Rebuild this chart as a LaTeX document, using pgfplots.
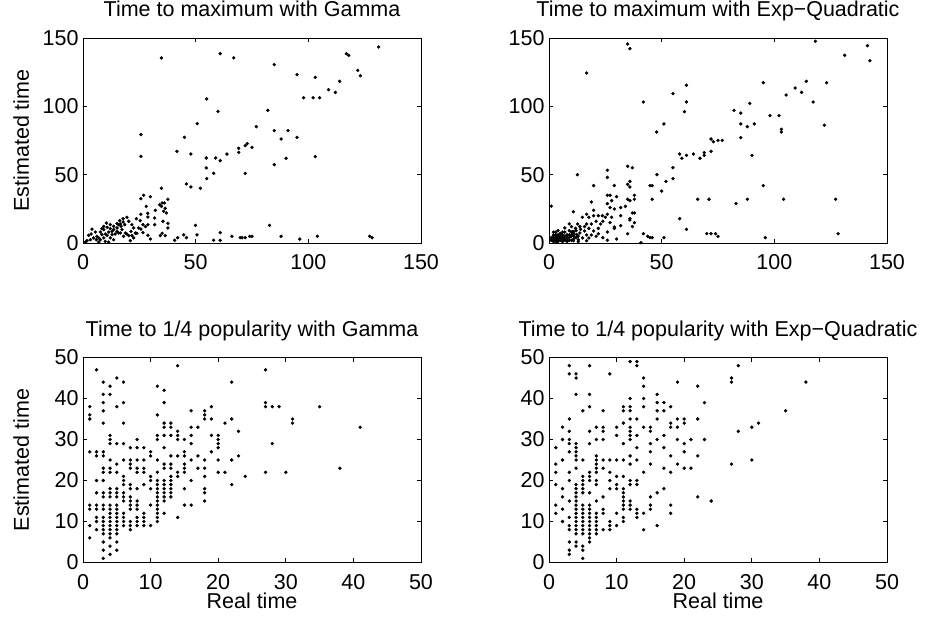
\documentclass[border=0pt]{standalone}
\usepackage{pgfplots}
\pgfplotsset{compat=1.18}
\usepackage{fontspec}
\setmainfont{Liberation Sans}
\newcommand{\fs}{\fontsize{21.5}{25}\selectfont}
\pgfplotsset{
  panel/.style={
    scale only axis, width=338pt, height=205pt,
    axis line style={line width=0.8pt, black},
    tick style={line width=0.8pt, black},
    tick align=inside, major tick length=4pt,
    /pgf/number format/assume math mode=true,
    tick label style={font=\fs},
    xticklabel style={anchor=base, yshift=-27pt},
    yticklabel style={anchor=east, xshift=-1pt},
    title style={font=\fs, at={(axis description cs:0.5,1)}, anchor=base, yshift=15pt},
    label style={font=\fs},
    ylabel style={at={(axis description cs:-0.183,0.5)}, anchor=center},
    xlabel style={at={(axis description cs:0.5,0)}, anchor=base, yshift=-46pt},
    clip=false,
  },
  big/.style={panel, xmin=0, xmax=150, ymin=0, ymax=150,
    xtick={0,50,100,150}, ytick={0,50,100,150}},
  small/.style={panel, xmin=0, xmax=50, ymin=0, ymax=50,
    xtick={0,10,...,50}, ytick={0,10,...,50}},
  dots/.style={only marks, mark=*, mark size=1.5pt, black},
}
\begin{document}
\begin{tikzpicture}
\useasboundingbox (0pt,0pt) rectangle (934pt,621pt);

% top left
\begin{axis}[big, at={(83pt,378pt)}, anchor=south west,
  title={Time to maximum with Gamma}, ylabel={Estimated time}]
\addplot[dots] coordinates {
(34.8,135.4)(60.9,138.5)(66.9,135.4)(84.9,130.5)(95.0,123.2)(103.1,121.2)(116.9,138.5)(117.9,137.3)
(131.2,143.4)(121.9,126.3)(123.1,122.4)(109.0,112.2)(112.0,110.2)(113.9,118.3)(97.9,106.3)(102.1,106.3)
(105.0,106.3)(54.9,105.4)(59.9,96.3)(82.0,97.1)(50.7,87.3)(76.9,85.1)(84.9,82.2)(91.0,82.2)(87.9,76.1)
(95.0,77.3)(25.7,79.3)(45.0,77.3)(41.7,67.1)(47.9,65.1)(25.7,63.4)(54.7,62.2)(60.9,60.2)(58.9,62.2)
(63.9,65.1)(69.1,69.3)(69.1,66.3)(72.0,71.2)(72.9,72.7)(75.0,70.0)(84.9,57.3)(90.1,62.0)(103.1,63.2)
(54.7,54.9)(58.0,51.0)(72.0,51.0)(54.9,47.1)(45.9,43.2)(47.9,41.0)(52.1,40.0)(34.8,40.0)(49.9,12.9)
(82.8,12.9)(50.6,5.9)(58.0,2.0)(60.9,7.6)(60.9,2.0)(66.1,4.9)(69.8,3.9)(70.6,3.9)(72.0,3.9)(74.0,4.9)
(75.0,4.9)(87.9,4.9)(96.2,2.9)(104.0,4.9)(127.2,4.9)(128.3,3.9)(40.7,2.0)(42.0,3.9)(44.7,5.9)(45.9,3.9)
(25.7,32.4)(26.9,34.9)(29.9,33.9)(28.1,26.8)(25.7,21.0)(28.7,21.7)(28.8,19.0)(34.8,26.8)(35.1,29.3)
(36.1,29.3)(34.0,28.0)(37.7,32.0)(36.5,25.4)(35.8,23.2)(37.0,22.0)(32.1,23.9)(35.5,15.9)(37.7,14.4)
(37.7,11.0)(35.1,7.1)(36.5,5.4)(31.8,18.3)(31.8,13.4)(28.8,13.4)(25.4,16.3)(23.7,17.8)(26.6,13.4)
(25.7,10.2)(26.6,7.6)(27.7,12.0)(28.8,5.6)(29.9,2.9)(34.3,5.4)(23.2,7.3)(22.5,11.0)(21.7,13.4)(20.3,15.9)
(19.5,18.8)(17.8,17.8)(17.8,15.4)(18.5,13.4)(16.9,12.2)(15.8,13.4)(15.1,11.0)(13.6,12.2)(12.9,8.5)
(16.6,7.3)(17.3,9.8)(18.8,7.3)(20.3,5.4)(21.7,5.4)(22.5,3.7)(21.0,1.7)(12.1,13.4)(10.7,11.5)(9.2,9.8)
(7.7,8.0)(4.0,10.2)(5.5,8.0)(6.2,4.9)(4.7,3.7)(3.3,2.4)(1.8,1.7)(1.0,0.7)(7.7,2.4)(9.2,3.7)(10.7,5.6)
(12.1,3.7)(13.6,2.4)(9.9,1.2)(7.0,0.7)(11.4,0.7)(12.9,6.1)(14.3,6.6)(15.1,8.5)(8.4,6.1)(7.0,3.7)(5.9,2.4)
(9.9,6.6)(11.4,8.0)(9.2,12.2)(10.4,14.6)(12.1,10.5)(13.6,9.8)(16.3,16.3)(15.8,7.3)(18.0,4.9)(19.5,6.6)
(2.5,5.6)(3.6,6.6)(8.4,10.5)(15.1,14.1)(16.6,13.9)(21.3,8.5)(23.9,7.1)(24.7,11.0)
};
\end{axis}

% top right
\begin{axis}[big, at={(549pt,378pt)}, anchor=south west,
  title={Time to maximum with Exp−Quadratic}]
\addplot[dots] coordinates {
(34.9,145.6)(35.9,142.2)(16.7,124.4)(118.2,147.6)(141.3,144.4)(131.2,137.3)(142.4,133.4)(114.2,118.3)
(123.2,117.3)(95.1,117.3)(109.2,113.4)(112.1,110.2)(105.2,108.3)(117.2,103.2)(61.0,115.4)(55.0,109.3)
(61.0,103.2)(41.9,103.2)(60.1,96.1)(82.1,97.1)(85.1,95.1)(89.1,102.2)(98.1,93.2)(102.1,93.2)(85.1,87.1)
(88.0,85.1)(91.1,87.1)(103.1,83.2)(103.1,81.2)(122.2,86.1)(51.0,87.1)(47.8,81.2)(85.1,77.1)(71.9,76.1)
(72.9,74.1)(75.0,75.1)(76.9,75.1)(58.0,65.1)(59.0,62.0)(61.0,64.1)(64.1,65.1)(67.0,62.0)(68.9,66.1)
(68.9,64.1)(71.9,67.1)(90.1,64.1)(55.0,55.1)(55.0,47.1)(51.9,45.1)(50.0,38.0)(47.9,50.0)(44.8,42.0)
(45.8,42.0)(45.8,32.0)(37.0,55.1)(34.9,56.1)(35.9,45.1)(34.9,42.9)(35.9,41.0)(37.9,34.9)(37.9,32.0)
(35.9,31.0)(34.9,32.0)(33.9,26.8)(37.0,22.0)(37.9,22.0)(35.9,17.8)(35.9,16.8)(37.9,14.9)(37.0,12.0)
(34.9,6.8)(41.9,6.8)(43.8,4.9)(44.8,3.9)(45.8,3.9)(51.0,3.9)(40.8,0.2)(61.0,10.0)(58.0,17.8)(66.0,32.0)
(71.0,32.0)(70.0,6.8)(71.9,6.8)(73.9,6.8)(75.0,4.9)(83.0,28.8)(88.0,32.0)(95.1,42.0)(96.0,3.9)(104.1,32.0)
(127.2,32.0)(128.3,6.8)(25.9,53.2)(25.9,48.0)(29.0,42.0)(19.8,42.0)(12.6,50.0)(25.9,34.9)(27.1,34.9)
(25.9,28.8)(27.8,31.0)(30.0,33.9)(29.0,24.9)(27.1,25.9)(31.8,25.9)(31.8,20.0)(31.8,12.7)(29.0,11.7)
(29.0,10.7)(27.1,14.9)(25.9,8.0)(25.9,2.0)(30.0,2.9)(23.9,3.9)(27.8,18.8)(25.0,18.8)(25.9,21.0)(23.9,15.9)
(22.9,13.9)(21.9,10.7)(21.9,6.8)(18.8,30.0)(19.8,23.9)(16.7,21.0)(14.8,18.8)(10.8,22.9)(17.7,18.8)
(19.8,20.0)(21.9,20.0)(23.7,20.0)(20.9,15.9)(18.8,13.9)(16.7,13.9)(15.8,12.0)(17.7,10.7)(19.8,8.8)
(20.9,4.9)(18.8,5.9)(16.7,5.9)(15.8,8.8)(13.7,12.0)(12.7,13.9)(11.8,10.7)(10.8,8.5)(10.1,6.1)(12.3,6.1)
(13.7,7.3)(14.9,3.7)(13.0,2.4)(10.8,1.7)(16.7,1.7)(17.7,3.7)
(1,27)(2,5)(3,4)(3,6)(4,3)(4,5)(5,2)(5,7)(6,4)(6,3)(7,5)(7,8)(8,2)(8,6)(9,4)(9,9)(10,5)(10,12)(11,3)
(2,3)(6,1)(8,1)(9,14)(7,11)
(1,4)(1,2)(2,6)(2,8)(3,2)(3,8)(4,1)(4,6)(4,9)(5,4)(5,5)(6,6)(6,8)(7,2)(7,3)(8,4)(9,2)(9,6)(10,2)
(10,8)(11,5)(11,7)(2,1)(3,1)(4,2)(12,4)(13,5)(12,9)(14,10)(13,1)
};
\end{axis}

% bottom left
\begin{axis}[small, at={(83pt,58.5pt)}, anchor=south west,
  title={Time to 1/4 popularity with Gamma}, ylabel={Estimated time}, xlabel={Real time}]
\addplot[dots] coordinates {
(2,47)(14,48)(27,47)(3,44)(4,43)(5,45)(6,44)(11,43)(12,42)(22,44)(3,41)(4,41)(3,39)(5,38)(6,39)(12,39)
(1,38)(1,36)(1,35)(3,37)(3,34)(6,34)(11,36)(27,39)(27,38)(28,38)(29,38)(35,38)
(16,37)(18,37)(18,36)(18,35)(19,38)(19,35)(22,35)(21,34)(31,35)(31,34)(41,33)
(12,34)(12,33)(13,34)(13,33)(16,33)(17,33)(23,32)(14,32)(14,31)(14,30)(11,31)(11,30)(12,31)(13,31)
(16,31)(19,31)(20,31)(20,30)(15,30)(16,29)(20,29)(20,28)(4,31)(4,30)(4,29)(5,29)(6,29)(8,30)(7,28)
(8,28)(9,28)(10,27)(10,26)(28,29)
(1,27)(2,27)(2,26)(3,27)(3,26)(12,28)(15,27)(15,26)(14,26)(13,26)(17,26)(19,27)(23,26)(22,25)(20,25)
(16,25)(18,25)(4,25)(5,24)(6,25)(7,25)(7,24)(8,25)(9,25)(11,25)
(3,23)(3,22)(4,23)(4,22)(5,22)(6,21)(6,20)(7,23)(8,23)(8,22)(9,23)(9,22)(10,21)(10,20)(11,22)(12,24)
(12,23)(13,24)(13,23)(15,24)(15,23)(15,22)(17,23)(18,23)(18,21)(20,22)(21,22)(24,21)(27,22)(30,22)(38,23)
(2,20)(3,20)(4,18)(5,18)(6,19)(7,19)(7,18)(8,18)(9,19)(10,18)(11,20)(11,19)(11,18)(12,20)(12,19)(12,18)
(13,21)(13,20)(13,19)(13,18)(15,18)(16,20)(18,18)(18,17)(22,19)(14,22)(14,21)
(2,17)(3,17)(3,16)(4,17)(4,16)(5,17)(5,16)(6,17)(6,16)(6,15)(7,16)(7,15)(8,15)(8,14)(10,14)(11,17)
(11,16)(11,15)(11,14)(12,17)(12,16)(12,15)(13,17)(13,16)(15,14)(16,14)(18,15)(1,14)(1,13)(2,14)(2,13)
(3,14)(3,13)(4,14)(4,13)(4,12)(5,14)(5,13)(5,12)(6,12)(7,14)(7,13)(8,13)(11,13)(11,12)(11,11)(11,10)
(12,12)(14,11)
(1,9)(2,11)(2,10)(2,8)(3,11)(3,10)(3,9)(3,8)(3,7)(4,11)(4,10)(4,9)(4,8)(4,7)(4,6)(5,11)(5,10)(5,9)
(5,8)(5,7)(6,11)(6,10)(6,9)(7,10)(7,9)(7,8)(8,11)(8,10)(8,9)(9,12)(9,11)(9,10)(9,9)(10,9)(1,6)(3,5)
(4,4)(5,5)(3,3)(5,3)(3,1)(4,2)
};
\end{axis}

% bottom right
\begin{axis}[small, at={(549pt,58.5pt)}, anchor=south west,
  title={Time to 1/4 popularity with Exp−Quadratic}, xlabel={Real time}]
\addplot[dots] coordinates {
(6,48)(12,49)(13,49)(13,48)(28,48)(4,46)(4,45)(9,46)(14,45)(14,43)(19,44)(22,43)(27,45)(27,44)(38,44)
(4,41)(6,41)(12,40)(14,40)(16,41)(5,37)(6,38)(8,37)(11,38)(11,37)(12,38)(12,37)(14,38)(16,39)(16,37)
(17,39)(17,37)(18,38)(23,39)(35,37)
(11,34)(12,35)(13,35)(16,35)(18,34)(18,33)(19,35)(19,33)(20,35)(20,34)(22,35)(30,33)(31,34)(28,32)
(6,32)(7,33)(8,33)(8,32)(10,33)(10,31)(12,33)(12,32)(12,31)(12,30)(13,31)(14,33)(15,33)(15,32)(17,31)
(16,30)(19,30)(21,30)(23,30)(7,30)(8,30)(11,29)(6,29)(4,29)(4,28)(4,27)(4,26)(4,25)(15,29)(13,28)
(20,29)(17,28)(15,27)(18,26)(20,27)(22,26)
(5,25)(7,26)(7,25)(7,24)(8,25)(9,25)(10,25)(11,25)(12,26)(12,24)(13,25)(15,24)(4,23)(7,23)(7,22)
(8,23)(6,22)(9,22)(14,22)(17,23)(18,22)(19,24)(20,23)(21,23)(27,24)(30,25)
(5,21)(5,20)(5,19)(5,18)(6,21)(6,20)(7,20)(7,19)(9,20)(10,21)(10,19)(10,18)(11,21)(12,20)(12,19)
(13,20)(13,19)(9,18)(6,17)(5,17)(8,16)(7,15)(4,19)(4,18)(4,17)(16,17)(17,18)(22,16)(24,15)
(4,16)(4,15)(4,14)(4,13)(4,12)(4,11)(4,10)(4,9)(4,8)(4,7)(5,14)(5,13)(5,12)(5,11)(5,10)(5,9)(5,8)
(5,7)(6,14)(6,13)(6,12)(6,11)(6,10)(6,9)(6,8)(6,7)(6,6)(6,5)(7,12)(7,11)(7,10)(7,9)(7,8)(7,7)(8,13)
(8,12)(8,8)(9,10)(9,9)(9,8)(10,12)(10,9)(11,15)(11,16)(11,17)(11,18)(11,14)(11,13)(11,11)(11,10)
(12,15)(12,14)(12,13)(13,13)(13,12)(13,11)(14,12)(14,8)(15,16)(15,14)(15,13)(16,9)(18,14)(18,12)
(5,4)(5,3)
(1,28)(1,24)(1,22)(1,19)(1,14)(1,12)(2,33)(2,30)(2,25)(2,18)(2,16)(2,10)(2,13)(3,48)(3,46)(3,35)
(3,32)(3,30)(3,29)(3,27)(3,22)(3,20)(3,15)(3,11)(3,9)(3,8)(3,5)(3,3)(3,2)(4,5)(4,4)(5,1)
};
\end{axis}
\end{tikzpicture}
\end{document}
